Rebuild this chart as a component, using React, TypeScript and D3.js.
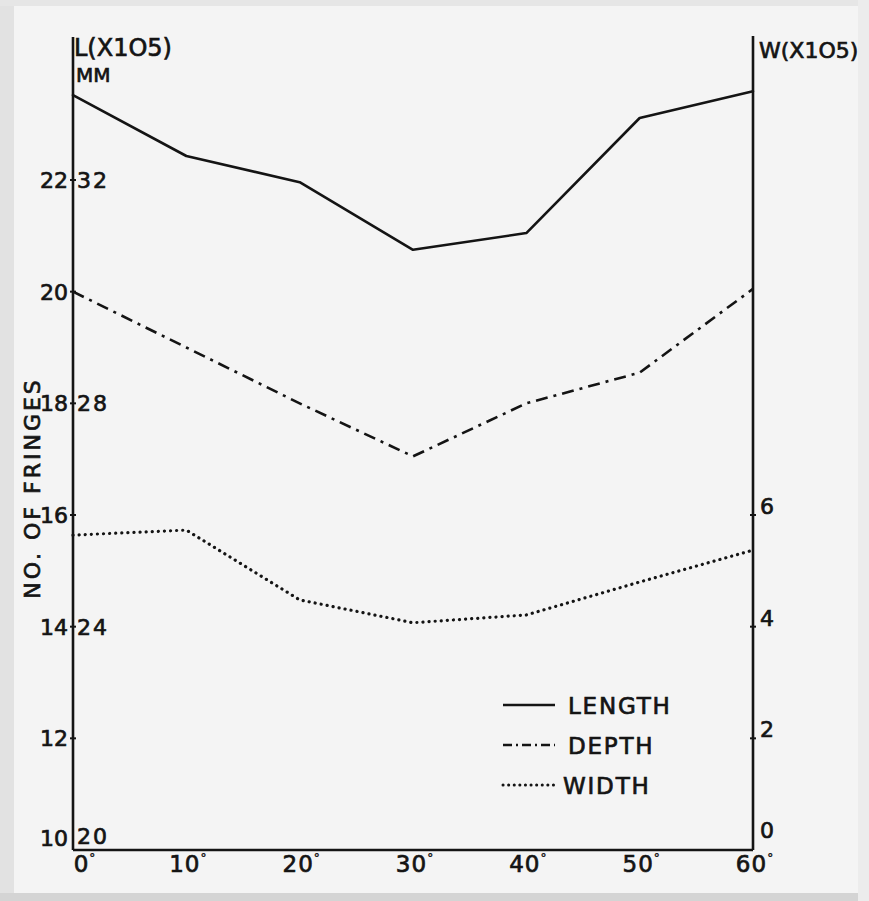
import React from "react";
import * as d3 from "d3";

const angles = [0, 10, 20, 30, 40, 50, 60];
const lengthL = [33.52, 32.43, 31.96, 30.75, 31.05, 33.11, 33.59];
const depthF = [20.0, 19.0, 18.0, 17.05, 18.0, 18.55, 20.05];
const widthW = [5.64, 5.73, 4.48, 4.07, 4.21, 4.8, 5.37];

const fringeTicks = [10, 12, 14, 16, 18, 20, 22];
const lengthTicks = [20, 24, 28, 32];
const widthTicks = [0, 2, 4, 6];
const angleTicks = [0, 10, 20, 30, 40, 50, 60];

const legendItems = ["LENGTH", "DEPTH", "WIDTH"];

const W = 869;
const H = 901;
const FONT = "'DejaVu Sans', 'Open Sans', sans-serif";
const INK = "#141414";

export default function App() {
  const x = d3.scaleLinear().domain([0, 60]).range([73, 753]);
  const yF = d3.scaleLinear().domain([10, 22]).range([850, 180]);
  const yL = d3.scaleLinear().domain([20, 32]).range([850, 180]);
  const yW = d3.scaleLinear().domain([0, 12]).range([850, 180]);

  const line = d3
    .line<[number, number]>()
    .x((d) => d[0])
    .y((d) => d[1]);

  const lenPts = angles.map((a, i) => [x(a), yL(lengthL[i])] as [number, number]);
  const depPts = angles.map((a, i) => [x(a), yF(depthF[i])] as [number, number]);
  const widPts = angles.map((a, i) => [x(a), yW(widthW[i])] as [number, number]);

  const styles = [
    { dash: undefined, cap: "round" as const, w: 2.6 },
    { dash: "12,6,3,6", cap: "butt" as const, w: 2.6 },
    { dash: "0.1,6", cap: "round" as const, w: 3.2 },
  ];

  const axisTop = 37;
  const axisBottom = yF(10);
  const xLeft = x(0);
  const xRight = x(60);

  const txt = { fill: INK, stroke: INK, strokeWidth: 0.7 };

  return (
    <svg
      width={W}
      height={H}
      style={{ position: "fixed", left: 0, top: 0 }}
      fontFamily={FONT}
    >
      <rect x={0} y={0} width={W} height={H} fill="#f4f4f4" />
      <rect x={0} y={0} width={14} height={H} fill="#e2e2e2" />
      <rect x={0} y={0} width={W} height={6} fill="#e6e6e6" />
      <rect x={0} y={893} width={W} height={8} fill="#d4d4d4" />
      <rect x={858} y={0} width={11} height={H} fill="#ececec" />

      {/* axes */}
      <line x1={xLeft} y1={axisTop} x2={xLeft} y2={axisBottom} stroke={INK} strokeWidth={2.6} />
      <line x1={xRight} y1={axisTop - 1} x2={xRight} y2={axisBottom} stroke={INK} strokeWidth={2.6} />
      <line x1={xLeft} y1={axisBottom} x2={xRight} y2={axisBottom} stroke={INK} strokeWidth={2.6} />

      {/* left ticks */}
      {fringeTicks.slice(1).map((t) => (
        <line key={"lt" + t} x1={xLeft - 3} x2={xLeft + 3} y1={yF(t)} y2={yF(t)} stroke={INK} strokeWidth={2} />
      ))}
      {fringeTicks.map((t) => (
        <text
          key={"fl" + t}
          x={xLeft - 5}
          y={Math.min(yF(t), 838)}
          dy="0.36em"
          textAnchor="end"
          fontSize={22}
          {...txt}
        >
          {t}
        </text>
      ))}
      {lengthTicks.map((t) => (
        <text
          key={"ll" + t}
          x={xLeft + 4}
          y={Math.min(yL(t), 836)}
          dy="0.36em"
          textAnchor="start"
          fontSize={22}
          letterSpacing={2}
          {...txt}
        >
          {t}
        </text>
      ))}

      {/* right ticks */}
      {widthTicks.slice(1).map((t) => (
        <line key={"rt" + t} x1={xRight - 3} x2={xRight + 3} y1={yW(t)} y2={yW(t)} stroke={INK} strokeWidth={2} />
      ))}
      {widthTicks.map((t) => (
        <text
          key={"wl" + t}
          x={xRight + 7}
          y={Math.min(yW(t) - 9, 830)}
          dy="0.36em"
          textAnchor="start"
          fontSize={22}
          {...txt}
        >
          {t}
        </text>
      ))}

      {/* bottom labels */}
      {angleTicks.map((t) => (
        <text
          key={"xb" + t}
          x={t === 0 ? x(t) + 12 : x(t) + 2}
          y={axisBottom + 22}
          textAnchor="middle"
          fontSize={23}
          letterSpacing={1}
          {...txt}
        >
          {t}
          <tspan fontSize={12} dy={-10} strokeWidth={0.4}>°</tspan>
        </text>
      ))}

      {/* axis titles */}
      <text x={xLeft + 1} y={56} fontSize={24} {...txt}>
        L(X1O5)
      </text>
      <text x={xLeft + 3} y={82} fontSize={20} {...txt}>
        MM
      </text>
      <text x={xRight + 6} y={58} fontSize={22} {...txt}>
        W(X1O5)
      </text>
      <text
        transform={`translate(40,488) rotate(-90)`}
        textAnchor="middle"
        fontSize={22}
        letterSpacing={3}
        {...txt}
      >
        NO. OF FRINGES
      </text>

      {/* series */}
      {[lenPts, depPts, widPts].map((pts, i) => (
        <path
          key={"s" + i}
          d={line(pts) || ""}
          fill="none"
          stroke={INK}
          strokeWidth={styles[i].w}
          strokeDasharray={styles[i].dash}
          strokeLinecap={styles[i].cap}
          strokeLinejoin="round"
        />
      ))}

      {/* legend */}
      {legendItems.map((name, i) => {
        const ly = 705 + i * 40;
        return (
          <g key={"lg" + name}>
            <line
              x1={503}
              x2={555}
              y1={ly}
              y2={ly}
              stroke={INK}
              strokeWidth={i === 2 ? 3 : 2.4}
              strokeDasharray={i === 0 ? undefined : i === 1 ? "9,4,2,4" : "0.1,5.5"}
              strokeLinecap={i === 2 ? "round" : "butt"}
            />
            <text x={i === 2 ? 563 : 568} y={ly + 9} fontSize={23} letterSpacing={1.8} {...txt}>
              {name}
            </text>
          </g>
        );
      })}
    </svg>
  );
}
